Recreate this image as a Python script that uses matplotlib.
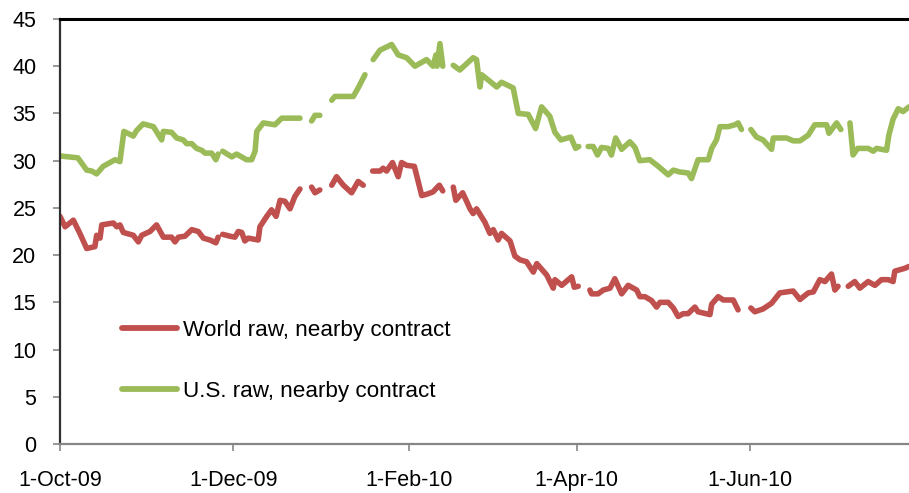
import numpy as np
import pandas as pd
import matplotlib
matplotlib.use("Agg")
import matplotlib.pyplot as plt
import matplotlib.dates as mdates
from matplotlib.ticker import FuncFormatter

nan = np.nan

# Observation dates as days since 1-Oct-09; nan values mark missing trading days
START = pd.Timestamp("2009-10-01")
END = pd.Timestamp("2010-07-27")

world_days = [0, 1.8, 4.7, 7.0, 9.4, 12.3, 12.9, 14.1, 14.7, 18.8, 20.0, 21.1, 22.3, 25.8,
              27.6, 28.8, 31.7, 34.0, 36.4, 39.3, 40.5, 41.7, 44.0, 46.4, 48.7, 50.5, 52.8,
              54.9, 55.7, 56.5,
              57.3, 59.9, 61.6, 62.8, 64.0, 65.1, 66.3, 69.8, 70.4, 72.8, 74.5, 76.1, 77.5,
              79.2, 81.0, 82.7, 84.5, 86.5,
              88.6, 89.8, 91.5, 93.5,
              95.7, 97.4, 99.8, 102.7, 105.0, 106.8, 108.5,
              110.1, 112.7, 113.8, 115.0, 117.1, 119.1, 120.3, 122.1, 124.8, 127.4, 129.7,
              131.4, 132.6, 133.6, 134.8, 136.5,
              138.5, 139.4, 141.8, 143.2, 144.4, 145.5, 146.7, 149.6, 151.4, 152.6, 154.3,
              155.5, 158.5, 160.2, 162.0, 164.3, 166.7, 167.9, 171.4, 173.7, 174.3, 176.7,
              180.2, 181.1, 182.5, 184.5,
              186.6, 187.2, 189.5, 191.3, 193.7, 195.4, 197.8, 200.1, 203.1, 204.2, 206.0,
              208.3, 210.1, 211.3, 214.2, 216.0, 217.7, 219.5, 221.2, 223.6, 224.7, 228.9,
              229.5, 231.8, 233.6, 237.1, 238.8, 241.0,
              243.3, 244.7, 247.6, 250.6, 253.5, 258.2, 260.6, 263.5, 265.3, 267.6, 269.4,
              271.7, 272.9, 274.0, 276.0,
              277.6, 279.9, 281.7, 284.6, 287.0, 289.3, 291.7, 293.4, 294.0, 297.5, 299.0]
world_vals = [24.1, 23.0, 23.7, 22.3, 20.7, 20.9, 22.1, 21.8, 23.2, 23.4, 23.0, 23.2, 22.4, 22.1,
              21.4, 22.1, 22.5, 23.2, 21.9, 21.9, 21.4, 21.9, 22.0, 22.7, 22.5, 21.8, 21.6,
              21.3, 21.9, nan,
              22.2, 22.0, 21.9, 22.5, 22.4, 21.5, 21.8, 21.6, 23.0, 24.1, 24.8, 24.1, 25.8,
              25.7, 24.9, 26.2, 27.0, nan,
              27.2, 26.6, 26.9, nan,
              27.4, 28.3, 27.4, 26.6, 27.8, 27.4, nan,
              28.9, 28.9, 29.2, 28.9, 29.8, 28.3, 29.8, 29.5, 29.4, 26.3, 26.5,
              26.7, 27.1, 27.4, 26.8, nan,
              27.2, 25.8, 26.6, 25.7, 24.9, 24.4, 24.9, 23.5, 22.3, 22.7, 21.6,
              22.3, 21.5, 19.9, 19.5, 19.3, 18.2, 19.1, 17.9, 16.5, 17.4, 16.8,
              17.7, 16.6, 16.7, nan,
              16.3, 15.9, 15.9, 16.3, 16.5, 17.5, 15.9, 16.8, 16.3, 15.6, 15.6,
              15.2, 14.5, 15.0, 15.0, 14.4, 13.5, 13.8, 13.8, 14.5, 14.0, 13.7,
              14.8, 15.6, 15.25, 15.25, 14.2, nan,
              14.4, 14.0, 14.3, 14.9, 16.0, 16.2, 15.3, 16.0, 16.1, 17.4, 17.2,
              18.0, 16.3, 16.7, nan,
              16.7, 17.2, 16.5, 17.2, 16.8, 17.4, 17.4, 17.2, 18.3, 18.6, 18.8]

us_days = [0, 6.3, 9.4, 11.2, 12.9, 15.2, 19.4, 21.1, 22.5, 25.8, 27.0, 29.3, 32.9, 35.8,
           36.4, 39.3, 41.1, 43.4, 44.6, 46.4, 48.1, 49.9, 51.1, 53.4, 54.9, 55.7, 56.5,
           57.3, 60.5, 62.2, 65.7, 67.5, 68.7, 69.3, 71.6, 75.7, 78.1, 84.5, 86.5,
           88.6, 89.8, 91.5, 93.5,
           95.7, 96.8, 103.3, 105.0, 107.4, 108.8,
           110.3, 112.7, 116.8, 119.1, 122.1, 125.0, 129.1, 131.4, 132.4, 132.8, 133.8,
           134.8, 136.5,
           138.5, 140.8, 145.5, 146.7, 147.9, 148.5, 151.4, 153.8, 155.5, 159.6, 161.4,
           164.9, 167.5, 169.6, 172.5, 174.3, 176.4, 179.9, 181.6, 182.7, 184.5,
           186.0, 187.8, 189.3, 190.7, 193.1, 194.2, 195.7, 197.8, 200.7, 202.5, 204.2,
           207.7, 210.7, 214.2, 216.0, 218.3, 221.2, 222.4, 224.7, 228.3, 229.5, 231.2,
           232.4, 235.3, 237.7, 238.8, 240.0, 241.5,
           243.3, 245.3, 247.6, 250.6, 251.2, 255.9, 258.2, 260.6, 263.5, 265.8, 270.0,
           270.8, 273.5, 275.0, 276.5,
           278.2, 279.3, 280.9, 284.6, 286.4, 287.6, 291.1, 291.9, 293.4, 295.2, 296.9, 299.0]
us_vals = [30.5, 30.3, 29.0, 28.9, 28.6, 29.4, 30.1, 29.9, 33.1, 32.6, 33.2, 33.9, 33.6, 32.2,
           33.1, 33.0, 32.4, 32.2, 31.8, 31.8, 31.3, 31.1, 30.8, 30.8, 30.1, 30.7, nan,
           31.0, 30.4, 30.7, 30.1, 30.1, 31.0, 33.1, 34.0, 33.8, 34.5, 34.5, nan,
           34.2, 34.8, 34.8, nan,
           36.4, 36.8, 36.8, 37.7, 39.1, nan,
           40.7, 41.7, 42.3, 41.2, 40.9, 40.0, 40.7, 40.0, 41.2, 40.0, 42.4,
           40.0, nan,
           40.1, 39.6, 40.9, 40.7, 37.8, 39.1, 38.4, 37.8, 38.3, 37.7, 35.0,
           34.9, 33.4, 35.7, 34.7, 33.0, 32.2, 32.5, 31.3, 31.5, nan,
           31.5, 31.5, 30.6, 31.4, 31.3, 30.6, 32.4, 31.2, 32.0, 31.4, 30.0,
           30.1, 29.4, 28.5, 29.0, 28.8, 28.7, 28.1, 30.1, 30.1, 31.3, 32.2,
           33.6, 33.6, 33.8, 34.0, 33.3, nan,
           33.3, 32.5, 32.2, 31.2, 32.4, 32.4, 32.1, 32.1, 32.7, 33.8, 33.8,
           32.9, 34.0, 33.3, nan,
           34.0, 30.6, 31.3, 31.3, 31.0, 31.3, 31.1, 32.7, 34.4, 35.5, 35.2, 35.7]

series_labels = ["World raw, nearby contract", "U.S. raw, nearby contract"]
series_colors = ["#C0504D", "#9BBB59"]
y_ticks = list(range(0, 46, 5))
x_tick_dates = ["2009-10-01", "2009-12-01", "2010-02-01", "2010-04-01", "2010-06-01"]

plt.rcParams["font.family"] = ["Liberation Sans", "DejaVu Sans"]

W, H = 909, 493
fig = plt.figure(figsize=(W / 100, H / 100), dpi=100)
ax = fig.add_axes([60 / W, 1 - 444 / H, (W - 60) / W, (444 - 19) / H])


def to_dates(days):
    return START + pd.to_timedelta(np.asarray(days, dtype=float), unit="D")


for days, vals, lab, col in [(world_days, world_vals, series_labels[0], series_colors[0]),
                             (us_days, us_vals, series_labels[1], series_colors[1])]:
    ax.plot(to_dates(days), vals, color=col, lw=4.0, label=lab,
            solid_capstyle="round", solid_joinstyle="round")

ax.set_xlim(START, END)
ax.set_ylim(0, 45)
ax.set_yticks(y_ticks)
ax.set_xticks(pd.to_datetime(x_tick_dates))
ax.xaxis.set_major_formatter(FuncFormatter(
    lambda v, p: (lambda d: f"{d.day}-{d.strftime('%b-%y')}")(mdates.num2date(v))))

ax.tick_params(axis="y", direction="out", length=5, width=1.2, color="#868686",
               labelsize=15.5, pad=12)
ax.tick_params(axis="x", direction="out", length=5, width=1.2, color="#868686",
               labelsize=15.5, pad=14)

ax.spines["right"].set_visible(False)
ax.spines["top"].set_color("black")
ax.spines["top"].set_linewidth(2.2)
ax.spines["left"].set_color("#303030")
ax.spines["left"].set_linewidth(1.6)
ax.spines["bottom"].set_color("#868686")
ax.spines["bottom"].set_linewidth(1.6)

leg = ax.legend(loc="upper left", bbox_to_anchor=(122 / W, 1 - 320 / H),
                bbox_transform=fig.transFigure, frameon=False, fontsize=16.2,
                handlelength=2.45, handletextpad=0.28, labelspacing=1.78,
                borderpad=0, borderaxespad=0)
for line in leg.get_lines():
    line.set_linewidth(4.2)
    line.set_solid_capstyle("round")

fig.savefig("out.png", dpi=100)
